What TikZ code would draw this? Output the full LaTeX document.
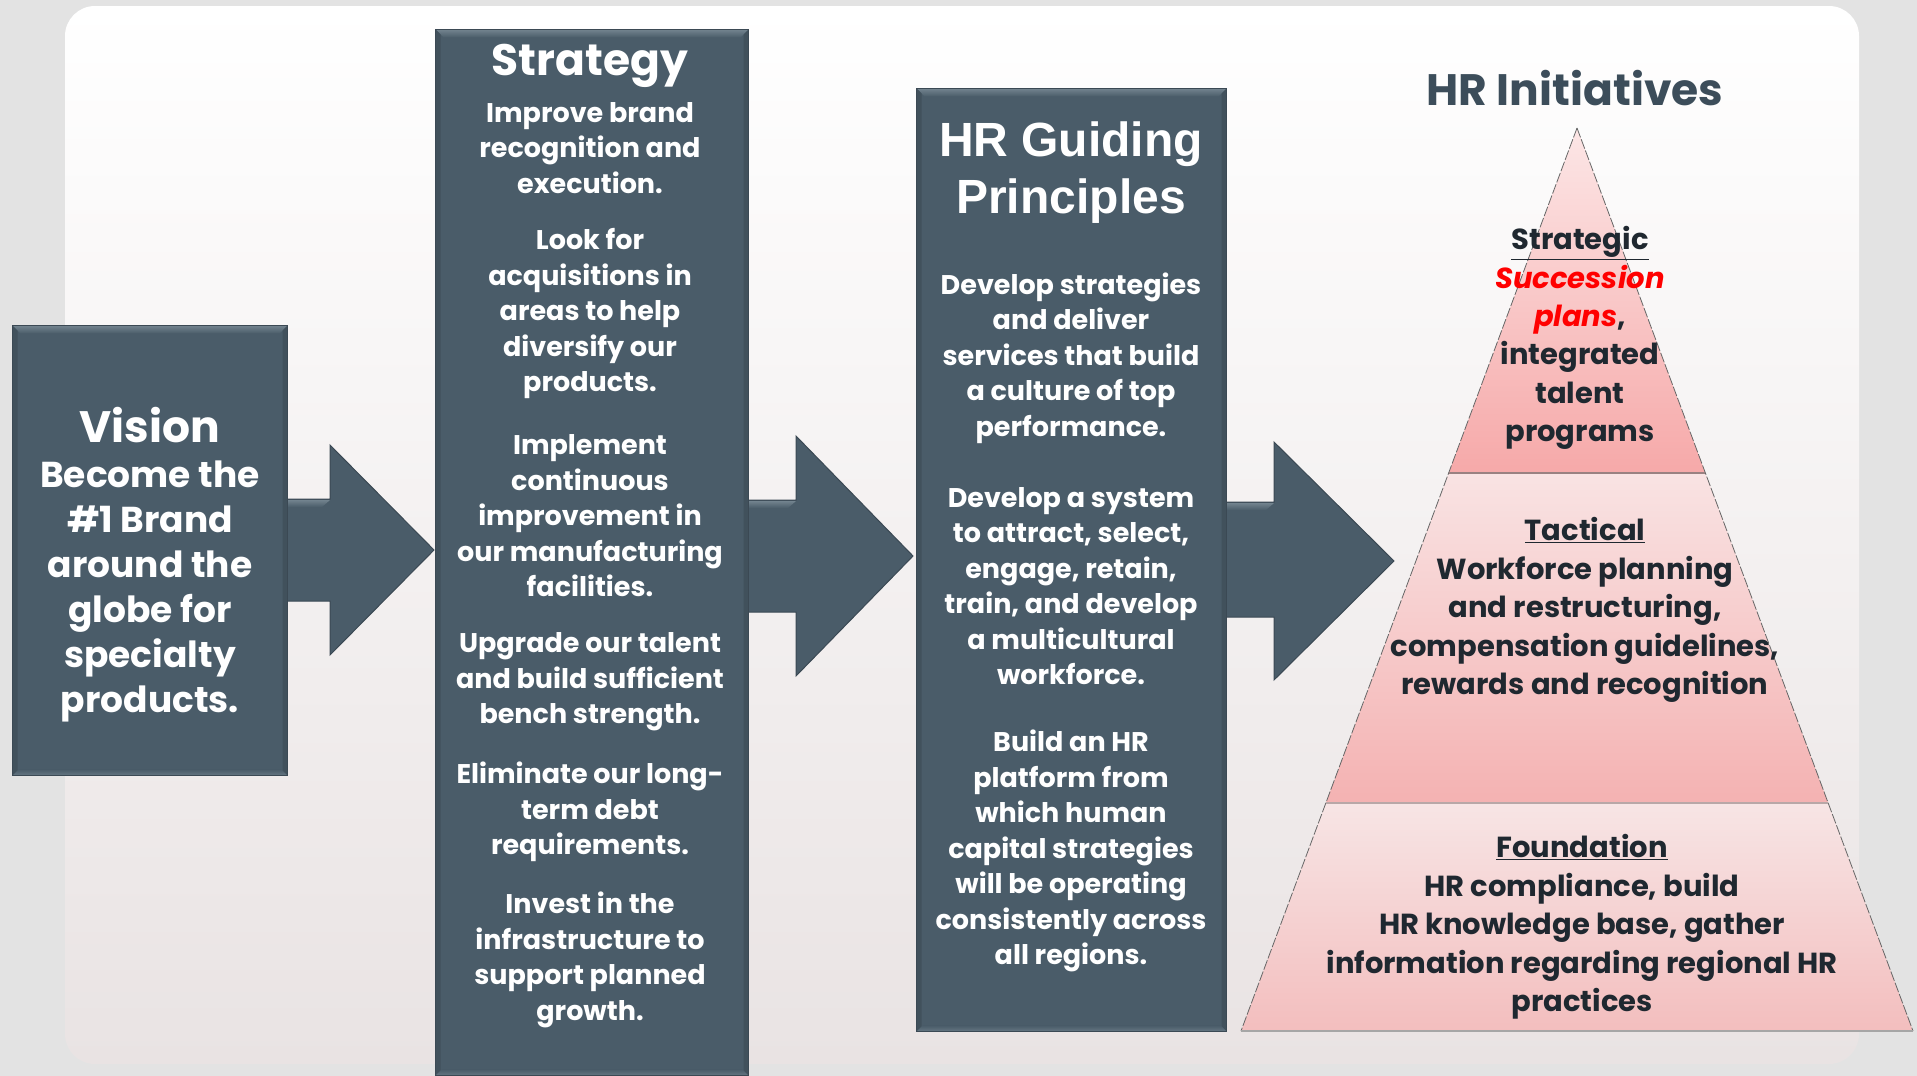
\documentclass[tikz,border=0pt]{standalone}
\usepackage{fontspec}
\setmainfont{Poppins}
\newfontfamily\headsans{Liberation Sans}
\usetikzlibrary{calc}

\definecolor{pagebg}{HTML}{E3E3E3}
\definecolor{panelbot}{HTML}{E9E3E3}
\definecolor{boxfill}{HTML}{4A5C69}
\definecolor{boxlight}{HTML}{72838E}
\definecolor{boxdark}{HTML}{3B4954}
\definecolor{inkdark}{HTML}{1F2830}
\definecolor{slate}{HTML}{3C4D5A}
\definecolor{hotred}{HTML}{FF0000}
\definecolor{pktopA}{HTML}{FCE6E6}
\definecolor{pkbotA}{HTML}{F6A9A9}
\definecolor{pktopB}{HTML}{F9E3E3}
\definecolor{pkbotB}{HTML}{F4B2B2}
\definecolor{pktopC}{HTML}{F7E5E5}
\definecolor{pkbotC}{HTML}{F3BEBE}
\definecolor{divline}{HTML}{9A8181}

\newcommand\fnthead{\fontsize{44}{50}\selectfont\bfseries}
\newcommand\fntvision{\fontsize{36}{45}\selectfont\bfseries}
\newcommand\fntbody{\fontsize{27}{35.5}\selectfont\bfseries}
\newcommand\fntpyr{\fontsize{29}{38.4}\selectfont\bfseries}
\newcommand\fntarial{\fontsize{48}{57}\selectfont\headsans\bfseries}

\begin{document}
\begin{tikzpicture}[x=1pt,y=-1pt,
  slab/.style={fill=boxfill, draw=boxdark, line width=1.2, inner sep=0, anchor=north west,
    path picture={
      % bevelled frame: light top, slightly darker sides, light bottom
      \coordinate (pnw) at (path picture bounding box.north west);
      \coordinate (pne) at (path picture bounding box.north east);
      \coordinate (psw) at (path picture bounding box.south west);
      \coordinate (pse) at (path picture bounding box.south east);
      \shade[top color=boxlight, bottom color=boxfill]
        (pnw) -- (pne) -- ($(pne)+(-8,8)$) -- ($(pnw)+(8,8)$) -- cycle;
      \fill[boxdark!60!boxfill] (pnw) -- ($(pnw)+(5,5)$) -- ($(psw)+(5,-5)$) -- (psw) -- cycle;
      \fill[boxdark!60!boxfill] (pne) -- ($(pne)+(-5,5)$) -- ($(pse)+(-5,-5)$) -- (pse) -- cycle;
      \shade[top color=boxfill, bottom color=boxlight!70!boxfill]
        (psw) -- (pse) -- ($(pse)+(-6,-6)$) -- ($(psw)+(6,-6)$) -- cycle;
    }},
  blockarrow/.style={fill=boxfill, draw=boxdark, line width=1, line join=miter},
  shaftlight/.style={top color=boxlight, bottom color=boxfill},
  whitetext/.style={text=white, align=center, inner sep=0},
  pyrtext/.style={text=inkdark, align=center, inner sep=0, font=\fntpyr},
  pyredge/.style={draw=black!60, line width=0.8, dash pattern=on 10pt off 2pt},
  pyrdiv/.style={draw=divline, line width=2.5},
]
\useasboundingbox (0,0) rectangle (1917,1076);
\clip (0,0) rectangle (1917,1076);

% page and rounded panel
\fill[pagebg] (0,0) rectangle (1917,1076);
\shade[top color=white, bottom color=panelbot, rounded corners=30] (65,6) rectangle (1859,1064);

% block arrows between the columns, with a light bevel along the shaft top
\path[blockarrow] (278,499) -- (330,499) -- (330,445) -- (434,550) -- (330,655) -- (330,601) -- (278,601) -- cycle;
\shade[shaftlight] (278,500) -- (330,500) -- (322,507) -- (278,507) -- cycle;
\path[blockarrow] (740,500) -- (796,500) -- (796,436) -- (913,556) -- (796,676) -- (796,612) -- (740,612) -- cycle;
\shade[shaftlight] (740,501) -- (796,501) -- (788,508) -- (740,508) -- cycle;
\path[blockarrow] (1218,502) -- (1274,502) -- (1274,442) -- (1394,561) -- (1274,680) -- (1274,617) -- (1218,617) -- cycle;
\shade[shaftlight] (1218,503) -- (1274,503) -- (1266,510) -- (1218,510) -- cycle;

% the three columns
\node[slab, minimum width=275, minimum height=450] (vision) at (12,325) {};
\node[slab, minimum width=313, minimum height=1046] (strategy) at (435,29) {};
\node[slab, minimum width=310, minimum height=943] (guiding) at (916,88) {};

% vision column
\node[whitetext, font=\fnthead] (visionhead) at (150,425) {Vision};
\node[whitetext, font=\fntvision] (visionbody) at (150,591) {Become the\\\#1 Brand\\around the\\globe for\\specialty\\products.};

% strategy column
\node[whitetext, font=\fnthead] (strathead) at (590,66) {Strategy};
\node[whitetext, font=\fntbody] (stratA) at (590,148) {Improve brand\\recognition and\\execution.};
\node[whitetext, font=\fntbody] (stratB) at (590,314) {Look for\\acquisitions in\\areas to help\\diversify our\\products.};
\node[whitetext, font=\fntbody] (stratC) at (590,516) {Implement\\continuous\\improvement in\\our manufacturing\\facilities.};
\node[whitetext, font=\fntbody] (stratD) at (590,682) {Upgrade our talent\\and build sufficient\\bench strength.};
\node[whitetext, font=\fntbody] (stratE) at (590,812) {Eliminate our long-\\term debt\\requirements.};
\node[whitetext, font=\fntbody] (stratF) at (590,960) {Invest in the\\infrastructure to\\support planned\\growth.};

% guiding principles column
\node[whitetext, font=\fntarial] (guidehead) at (1071,173) {HR Guiding\\Principles};
\node[whitetext, font=\fntbody] (guideA) at (1071,358) {Develop strategies\\and deliver\\services that build\\a culture of top\\performance.};
\node[whitetext, font=\fntbody] (guideB) at (1071,586) {Develop a system\\to attract, select,\\engage, retain,\\train, and develop\\a multicultural\\workforce.};
\node[whitetext, font=\fntbody] (guideC) at (1071,851) {Build an HR\\platform from\\which human\\capital strategies\\will be operating\\consistently across\\all regions.};

% initiatives pyramid
\node[text=slate, font=\fnthead, inner sep=0] (inithead) at (1575,88) {HR Initiatives};
\coordinate (apex) at (1577,128);
\coordinate (bl) at (1241,1031);
\coordinate (br) at (1913,1031);
\coordinate (d1l) at ($(apex)!0.38206!(bl)$);
\coordinate (d1r) at ($(apex)!0.38206!(br)$);
\coordinate (d2l) at ($(apex)!0.7475!(bl)$);
\coordinate (d2r) at ($(apex)!0.7475!(br)$);
\shade[top color=pktopA, bottom color=pkbotA] (apex) -- (d1r) -- (d1l) -- cycle;
\shade[top color=pktopB, bottom color=pkbotB] (d1l) -- (d1r) -- (d2r) -- (d2l) -- cycle;
\shade[top color=pktopC, bottom color=pkbotC] (d2l) -- (d2r) -- (br) -- (bl) -- cycle;
\draw[pyredge] (apex) -- (bl);
\draw[pyredge] (apex) -- (br);
\draw[draw=black!35, line width=1.5] (bl) -- (br);
\draw[pyrdiv] (d1l) -- (d1r);
\draw[draw=divline!70, line width=2] (d2l) -- (d2r);

\node[pyrtext] (tierA) at (1580,338) {\underline{Strategic}\\\textcolor{hotred}{\itshape Succession}\\\textcolor{hotred}{\itshape plans},\\integrated\\talent\\programs};
\node[pyrtext] (tierB) at (1585,610) {\underline{Tactical}\\Workforce planning\\and restructuring,\\compensation guidelines,\\rewards and recognition};
\node[pyrtext] (tierC) at (1582,927) {\underline{Foundation}\\HR compliance, build\\HR knowledge base, gather\\information regarding regional HR\\practices};
\end{tikzpicture}
\end{document}
